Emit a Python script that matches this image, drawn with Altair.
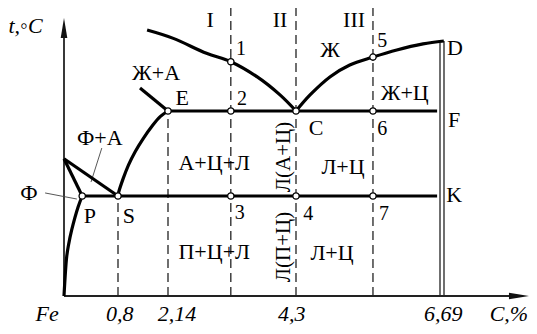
import altair as alt
import pandas as pd

# ---- schematic scales: carbon % (x) and temperature °C (y) ----
X_DOM = [0, 0.8, 2.14, 4.3, 6.69]
X_RNG = [56, 110, 160, 288, 434]
Y_DOM = [0, 727, 1147, 1600]
Y_RNG = [288, 188, 103, 33]

# ---- phase boundary curves (carbon %, temperature) ----
liquidus_AC_c = [1.58, 2.23, 2.79, 3.2, 3.64, 4.03, 4.3]
liquidus_AC_t = [1671, 1617, 1520, 1466, 1369, 1251, 1147]
liquidus_CD_c = [4.3, 4.53, 4.86, 5.18, 5.56, 5.95, 6.38, 6.72]
liquidus_CD_t = [1147, 1251, 1369, 1445, 1496, 1542, 1581, 1600]
solvus_ES_c = [0.8, 0.81, 0.94, 1.08, 1.26, 1.48, 1.70, 1.93, 2.14]
solvus_ES_t = [727, 740, 814, 880, 946, 1012, 1069, 1119, 1147]
solvus_PQ_c = [0.27, 0.21, 0.114, 0.067, 0.04, 0.0]
solvus_PQ_t = [727, 649, 480, 371, 286, 0]

# straight boundaries: (c1, t1, c2, t2)
straight_names = ["E-line", "ECF", "PSK", "GP", "GS"]
straight_c1 = [1.39, 2.14, 0.27, 0.0, 0.0]
straight_t1 = [1296, 1147, 727, 911, 911]
straight_c2 = [2.14, 6.61, 6.61, 0.27, 0.8]
straight_t2 = [1147, 1147, 727, 727, 727]

# dashed alloy verticals
dash_c = [0.8, 2.14, 3.2, 4.3, 5.56]
dash_t1 = [0, 0, 0, 0, 0]
dash_t2 = [727, 1147, 1865, 1865, 1865]

# characteristic points (open circles)
pt_c = [0.27, 0.8, 2.14, 4.3, 3.2, 3.2, 3.2, 4.3, 5.56, 5.56, 5.56]
pt_t = [727, 727, 1147, 1147, 1466, 1147, 727, 727, 1496, 1147, 727]

# region / point labels (letters)
lab_text = ["Ж+А", "E", "Ф+А", "А+Ц+Л", "Ф", "P", "S", "П+Ц+Л", "I", "II", "III",
            "Ж", "D", "Ж+Ц", "F", "C", "Л+Ц", "K", "Л+Ц"]
lab_c = [1.82, 2.38, 0.53, 2.92, -0.52, 0.385, 1.09, 2.92, 2.85, 4.03, 5.25,
         4.86, 6.90, 6.08, 6.89, 4.63, 5.07, 6.89, 4.89]
lab_t = [1348, 1186, 979, 855, 698, 531, 531, 269, 1691, 1691, 1691,
         1496, 1509, 1218, 1068, 1028, 836, 683, 262]

# numbered points
num_text = ["1", "2", "3", "4", "5", "6", "7"]
num_c = [3.37, 3.39, 3.35, 4.50, 5.71, 5.71, 5.74]
num_t = [1509, 1186, 560, 553, 1561, 1028, 553]

# vertical labels along the eutectic alloy
vert_text = ["Л(А+Ц)", "Л(П+Ц)"]
vert_c = [4.2, 4.2]
vert_t = [920, 356]

# axis labels
tick_text = ["Fe", "0,8", "2,14", "4,3", "6,69"]
tick_c = [-0.25, 0.85, 2.29, 4.23, 6.71]
tick_t = [-182, -182, -182, -182, -182]

# leader lines
lead_c1 = [-0.28, 0.56]
lead_t1 = [742, 964]
lead_c2 = [0.19, 0.40]
lead_t2 = [705, 796]

FONT = "Liberation Serif"

xs = alt.Scale(domain=X_DOM, range=X_RNG, nice=False, zero=False)
ys = alt.Scale(domain=Y_DOM, range=Y_RNG, nice=False, zero=False)


def X(f="c"):
    return alt.X(f"{f}:Q", scale=xs, axis=None)


def Y(f="t"):
    return alt.Y(f"{f}:Q", scale=ys, axis=None)


rows = []
for name, cs, ts in [("AC", liquidus_AC_c, liquidus_AC_t), ("CD", liquidus_CD_c, liquidus_CD_t),
                     ("ES", solvus_ES_c, solvus_ES_t), ("PQ", solvus_PQ_c, solvus_PQ_t)]:
    for i, (c, t) in enumerate(zip(cs, ts)):
        rows.append({"seg": name, "i": i, "c": c, "t": t})
curves_df = pd.DataFrame(rows)

straight_df = pd.DataFrame({"seg": straight_names, "c": straight_c1, "t": straight_t1,
                            "c2": straight_c2, "t2": straight_t2})
dash_df = pd.DataFrame({"c": dash_c, "t": dash_t1, "t2": dash_t2})
pt_df = pd.DataFrame({"c": pt_c, "t": pt_t})
lab_df = pd.DataFrame({"c": lab_c, "t": lab_t, "label": lab_text})
num_df = pd.DataFrame({"c": num_c, "t": num_t, "label": num_text})
vert_df = pd.DataFrame({"c": vert_c, "t": vert_t, "label": vert_text})
tick_df = pd.DataFrame({"c": tick_c, "t": tick_t, "label": tick_text})
lead_df = pd.DataFrame({"c": lead_c1, "t": lead_t1, "c2": lead_c2, "t2": lead_t2})

# axes (carbon, temperature)
yaxis_df = pd.DataFrame({"c": [0.0], "t": [0], "t2": [1671]})
xaxis_df = pd.DataFrame({"c": [0.0], "c2": [7.95], "t": [0]})
yarrow_df = pd.DataFrame({"c": [0.0], "t": [1684]})
xarrow_df = pd.DataFrame({"c": [7.95], "t": [0]})
cem_df = pd.DataFrame({"c": [6.69], "t": [0], "t2": [1600]})
cemL_df = pd.DataFrame({"c": [6.69], "t": [0], "t2": [1587]})

dashed = alt.Chart(dash_df).mark_rule(strokeDash=[9, 5], strokeWidth=1.3, color="#222").encode(
    x=X(), y=Y(), y2="t2:Q")
yaxis = alt.Chart(yaxis_df).mark_rule(strokeWidth=1.8, color="#222").encode(x=X(), y=Y(), y2="t2:Q")
xaxis = alt.Chart(xaxis_df).mark_rule(strokeWidth=1.8, color="#222").encode(x=X(), x2="c2:Q", y=Y())
yarrow = alt.Chart(yarrow_df).mark_point(shape="M0,-1L0.33,1L-0.33,1Z", filled=True, color="#111",
                                         size=400, opacity=1).encode(x=X(), y=Y())
xarrow = alt.Chart(xarrow_df).mark_point(shape="M1,0L-1,-0.33L-1,0.33Z", filled=True, color="#111",
                                         size=400, opacity=1).encode(x=X(), y=Y())
cemR = alt.Chart(cem_df).mark_rule(strokeWidth=1.3, color="#222", xOffset=2).encode(x=X(), y=Y(), y2="t2:Q")
cemL = alt.Chart(cemL_df).mark_rule(strokeWidth=1.3, color="#222", xOffset=-2).encode(x=X(), y=Y(), y2="t2:Q")
leaders = alt.Chart(lead_df).mark_rule(strokeWidth=0.9, color="#444").encode(
    x=X(), x2="c2:Q", y=Y(), y2="t2:Q")
straight = alt.Chart(straight_df).mark_rule(strokeWidth=3.2, color="black").encode(
    x=X(), x2="c2:Q", y=Y(), y2="t2:Q")
curves = alt.Chart(curves_df).mark_line(interpolate="catmull-rom", strokeWidth=3.2, color="black").encode(
    x=X(), y=Y(), detail="seg:N", order="i:Q")
points = alt.Chart(pt_df).mark_point(shape="circle", filled=True, fill="white", stroke="black",
                                     strokeWidth=1.3, size=40, opacity=1).encode(x=X(), y=Y())
labels = alt.Chart(lab_df).mark_text(font=FONT, fontSize=22, baseline="alphabetic", align="center",
                                     color="black").encode(x=X(), y=Y(), text="label:N")
nums = alt.Chart(num_df).mark_text(font=FONT, fontSize=20, baseline="alphabetic", align="center",
                                   color="black").encode(x=X(), y=Y(), text="label:N")
verts = alt.Chart(vert_df).mark_text(font=FONT, fontSize=21, baseline="alphabetic", align="center",
                                     angle=270, color="black").encode(x=X(), y=Y(), text="label:N")
ticks = alt.Chart(tick_df).mark_text(font=FONT, fontSize=22, fontStyle="italic", baseline="alphabetic",
                                     align="center", color="black").encode(x=X(), y=Y(), text="label:N")
cunit = alt.Chart(pd.DataFrame({"c": [7.47], "t": [-182], "label": ["C,%"]})).mark_text(
    font=FONT, fontSize=22, fontStyle="italic", baseline="alphabetic", align="left", color="black"
).encode(x=X(), y=Y(), text="label:N")
tunit = alt.Chart(pd.DataFrame({"c": [-0.57], "t": [1652], "label": ["t,◦C"]})).mark_text(
    font=FONT, fontSize=22, fontStyle="italic", baseline="alphabetic", align="center", color="black"
).encode(x=X(), y=Y(), text="label:N")

chart = alt.layer(
    dashed, cemL, cemR, yaxis, xaxis, yarrow, xarrow, leaders, straight, curves, points,
    labels, nums, verts, ticks, cunit, tunit
).properties(width=521, height=318, autosize="none", padding=0).configure_view(stroke=None)

chart.save("out.html", embed_options={"renderer": "svg", "actions": False})
